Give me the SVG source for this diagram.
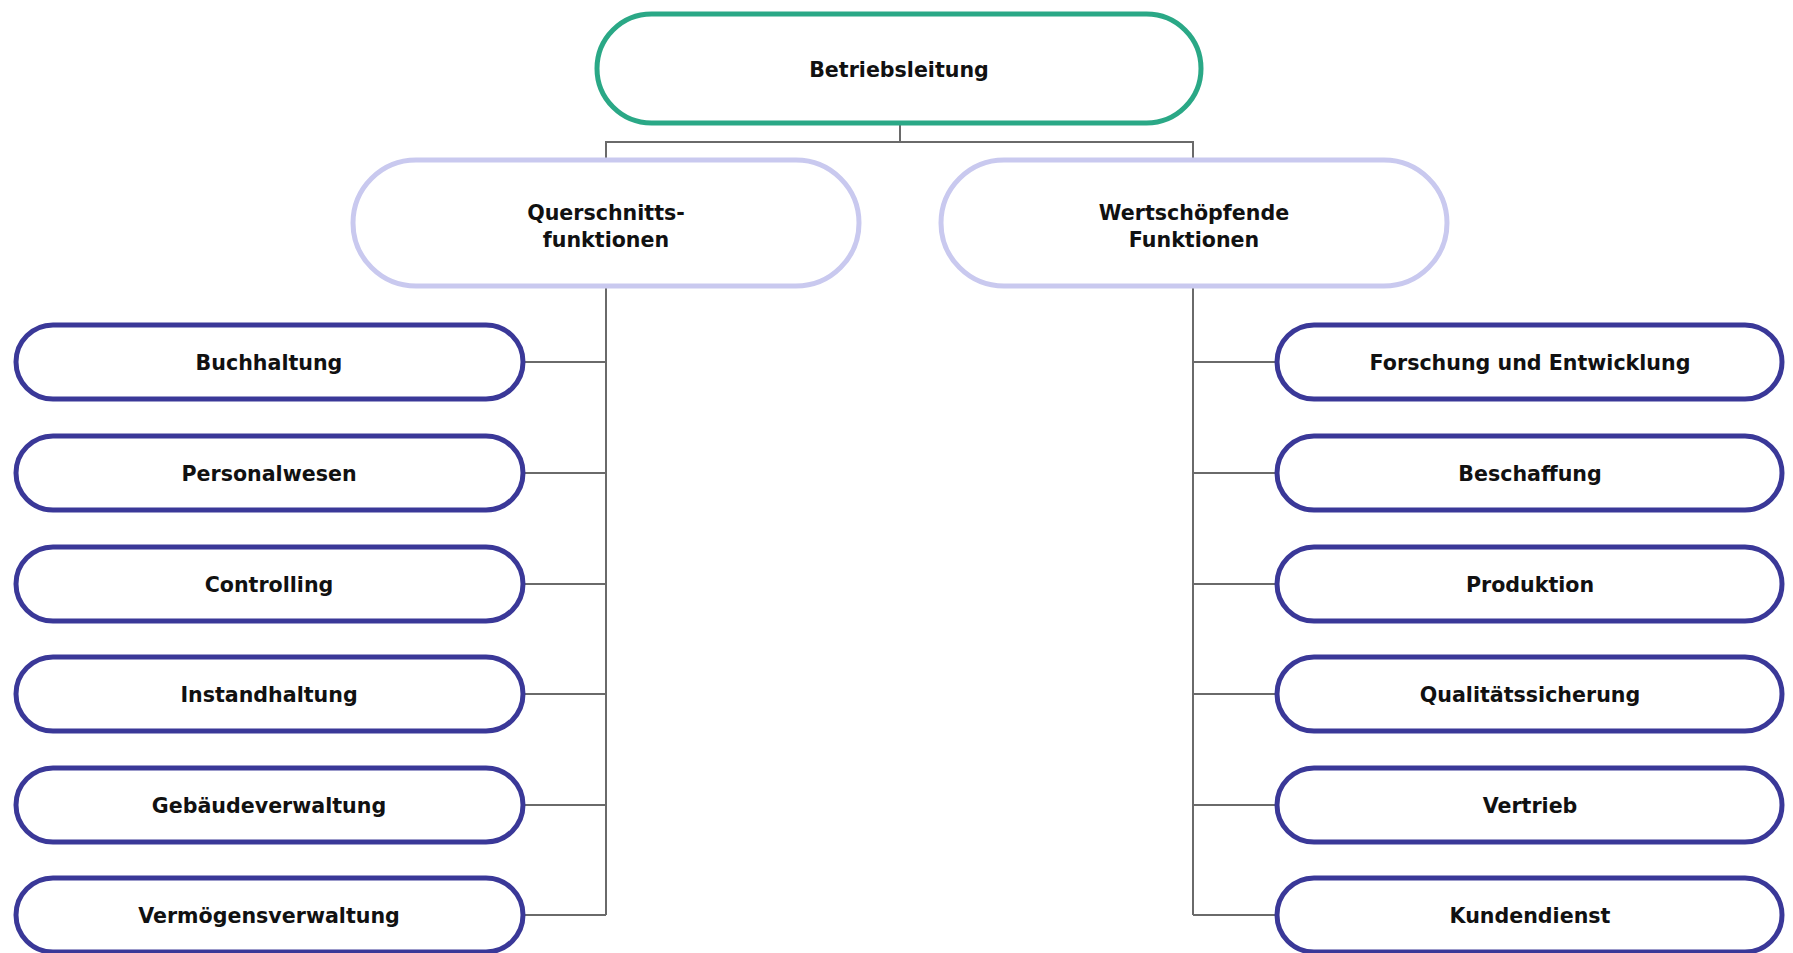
<svg xmlns="http://www.w3.org/2000/svg" width="1793" height="953" viewBox="0 0 1793 953">
  <style>
    .lbl { font-family: "DejaVu Sans", Verdana, sans-serif; font-weight: bold; font-size: 20.6px; fill: #111; text-anchor: middle; dominant-baseline: central; }
    .root { fill: #ffffff; stroke: #2aa886; stroke-width: 5; }
    .mid { fill: #ffffff; stroke: #c9c9ef; stroke-width: 5; }
    .leaf { fill: #ffffff; stroke: #3a3898; stroke-width: 5; }
    .conn { fill: none; stroke: #6a6a6a; stroke-width: 2; }
  </style>
  <rect width="1793" height="953" fill="#ffffff"/>

  <g id="connectors">
    <path class="conn" d="M900 123 V142 M606 160 V142 H1193 V160"/>
    <path class="conn" d="M606 286 V915 M523 362 H606 M523 473 H606 M523 584 H606 M523 694 H606 M523 805 H606 M523 915 H606"/>
    <path class="conn" d="M1193 286 V915 M1193 362 H1277 M1193 473 H1277 M1193 584 H1277 M1193 694 H1277 M1193 805 H1277 M1193 915 H1277"/>
  </g>

  <g id="betriebsleitung">
    <rect class="root" x="597" y="14" width="604" height="109" rx="54.5"/>
    <text class="lbl" x="899" y="70">Betriebsleitung</text>
  </g>

  <g id="querschnittsfunktionen">
    <rect class="mid" x="353" y="160" width="506" height="126" rx="63"/>
    <text class="lbl" x="606" y="213">Querschnitts-</text>
    <text class="lbl" x="606" y="240">funktionen</text>
  </g>

  <g id="wertschoepfende-funktionen">
    <rect class="mid" x="941" y="160" width="506" height="126" rx="63"/>
    <text class="lbl" x="1194" y="213">Wertschöpfende</text>
    <text class="lbl" x="1194" y="240">Funktionen</text>
  </g>

  <g id="buchhaltung">
    <rect class="leaf" x="16" y="325" width="507" height="74" rx="37"/>
    <text class="lbl" x="269" y="363">Buchhaltung</text>
  </g>
  <g id="personalwesen">
    <rect class="leaf" x="16" y="436" width="507" height="74" rx="37"/>
    <text class="lbl" x="269" y="474">Personalwesen</text>
  </g>
  <g id="controlling">
    <rect class="leaf" x="16" y="547" width="507" height="74" rx="37"/>
    <text class="lbl" x="269" y="585">Controlling</text>
  </g>
  <g id="instandhaltung">
    <rect class="leaf" x="16" y="657" width="507" height="74" rx="37"/>
    <text class="lbl" x="269" y="695">Instandhaltung</text>
  </g>
  <g id="gebaeudeverwaltung">
    <rect class="leaf" x="16" y="768" width="507" height="74" rx="37"/>
    <text class="lbl" x="269" y="806">Gebäudeverwaltung</text>
  </g>
  <g id="vermoegensverwaltung">
    <rect class="leaf" x="16" y="878" width="507" height="74" rx="37"/>
    <text class="lbl" x="269" y="916">Vermögensverwaltung</text>
  </g>

  <g id="forschung-und-entwicklung">
    <rect class="leaf" x="1277" y="325" width="505" height="74" rx="37"/>
    <text class="lbl" x="1530" y="363">Forschung und Entwicklung</text>
  </g>
  <g id="beschaffung">
    <rect class="leaf" x="1277" y="436" width="505" height="74" rx="37"/>
    <text class="lbl" x="1530" y="474">Beschaffung</text>
  </g>
  <g id="produktion">
    <rect class="leaf" x="1277" y="547" width="505" height="74" rx="37"/>
    <text class="lbl" x="1530" y="585">Produktion</text>
  </g>
  <g id="qualitaetssicherung">
    <rect class="leaf" x="1277" y="657" width="505" height="74" rx="37"/>
    <text class="lbl" x="1530" y="695">Qualitätssicherung</text>
  </g>
  <g id="vertrieb">
    <rect class="leaf" x="1277" y="768" width="505" height="74" rx="37"/>
    <text class="lbl" x="1530" y="806">Vertrieb</text>
  </g>
  <g id="kundendienst">
    <rect class="leaf" x="1277" y="878" width="505" height="74" rx="37"/>
    <text class="lbl" x="1530" y="916">Kundendienst</text>
  </g>
</svg>
